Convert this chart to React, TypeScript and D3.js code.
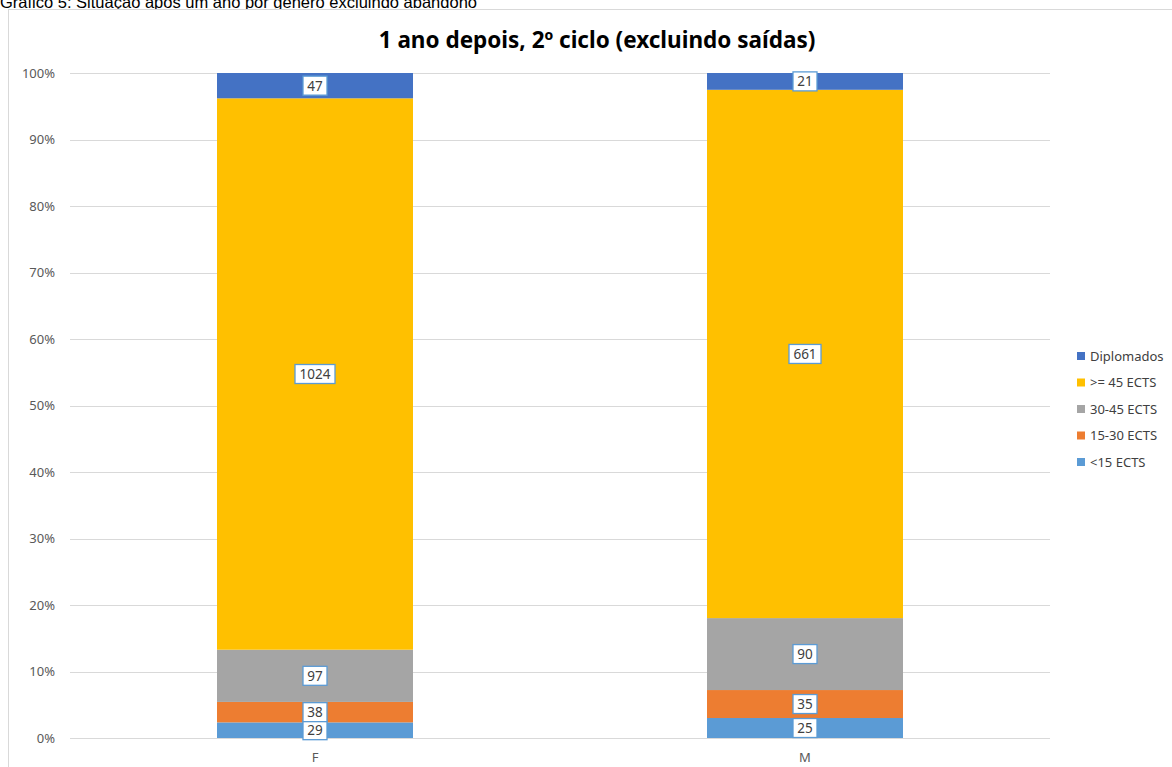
import React from "react";
import * as d3 from "d3";

const categories = ["F", "M"];
const seriesNames = ["<15 ECTS", "15-30 ECTS", "30-45 ECTS", ">= 45 ECTS", "Diplomados"];
const seriesColors = ["#5B9BD5", "#ED7D31", "#A5A5A5", "#FFC000", "#4472C4"];
const valuesLt15 = [29, 25];
const values15to30 = [38, 35];
const values30to45 = [97, 90];
const valuesGe45 = [1024, 661];
const valuesDipl = [47, 21];
const yTicks = [0, 0.1, 0.2, 0.3, 0.4, 0.5, 0.6, 0.7, 0.8, 0.9, 1];
const legendOrder = ["Diplomados", ">= 45 ECTS", "30-45 ECTS", "15-30 ECTS", "<15 ECTS"];

const W = 1172;
const H = 767;
const plotLeft = 70;
const plotRight = 1050;
const plotTop = 73;
const plotBottom = 738;
const FONT = "'Noto Sans', 'Open Sans', sans-serif";

export default function App() {
  const seriesValues = [valuesLt15, values15to30, values30to45, valuesGe45, valuesDipl];
  const rows = categories.map((c, i) => {
    const r: any = { cat: c };
    seriesNames.forEach((s, j) => (r[s] = seriesValues[j][i]));
    return r;
  });
  const stacked = d3
    .stack<any>()
    .keys(seriesNames)
    .offset(d3.stackOffsetExpand)(rows);

  const x = d3.scaleBand<string>().domain(categories).range([plotLeft, plotRight]);
  const y = d3.scaleLinear().domain([0, 1]).range([plotBottom, plotTop]);
  const barW = x.bandwidth() * 0.4;
  const fmt = d3.format(".0%");

  return (
    <svg
      width={W}
      height={H}
      style={{ position: "fixed", left: 0, top: 0, background: "#fff" }}
    >
      <text x={0} y={8} fontFamily="'Liberation Sans', Arial, sans-serif" fontSize={16.5} fill="#000">
        Gráfico 5: Situação após um ano por género excluindo abandono
      </text>
      <rect x={8.5} y={9.5} width={1190} height={800} fill="#fff" stroke="#D9D9D9" strokeWidth={1} />
      <text
        x={597}
        y={48}
        textAnchor="middle"
        fontFamily={FONT}
        fontWeight="bold"
        fontSize={22.5}
        fill="#000"
      >
        1 ano depois, 2º ciclo (excluindo saídas)
      </text>
      {yTicks.map((t) => (
        <g key={t}>
          <line
            x1={plotLeft}
            x2={plotRight}
            y1={Math.round(y(t)) + 0.5}
            y2={Math.round(y(t)) + 0.5}
            stroke="#D9D9D9"
            strokeWidth={1}
          />
          <text
            x={55}
            y={y(t)}
            dy="0.35em"
            textAnchor="end"
            fontFamily={FONT}
            fontSize={13}
            fill="#595959"
          >
            {fmt(t)}
          </text>
        </g>
      ))}
      {stacked.map((layer, j) =>
        layer.map((d, i) => {
          const cx = (x(categories[i]) as number) + x.bandwidth() / 2;
          return (
            <rect
              key={`${j}-${i}`}
              x={cx - barW / 2}
              y={y(d[1])}
              width={barW}
              height={y(d[0]) - y(d[1])}
              fill={seriesColors[j]}
            />
          );
        })
      )}
      {stacked.map((layer, j) =>
        layer.map((d, i) => {
          const cx = (x(categories[i]) as number) + x.bandwidth() / 2;
          const cy = (y(d[0]) + y(d[1])) / 2;
          const label = String(seriesValues[j][i]);
          const bw = label.length * 8 + 8;
          const bh = 19;
          return (
            <g key={`l-${j}-${i}`}>
              <rect
                x={cx - bw / 2}
                y={cy - bh / 2}
                width={bw}
                height={bh}
                fill="#fff"
                stroke="#5B9BD5"
                strokeWidth={1.3}
              />
              <text
                x={cx}
                y={cy}
                dy="0.36em"
                textAnchor="middle"
                fontFamily={FONT}
                fontSize={13.5}
                fill="#404040"
              >
                {label}
              </text>
            </g>
          );
        })
      )}
      {categories.map((c) => (
        <text
          key={c}
          x={(x(c) as number) + x.bandwidth() / 2}
          y={757}
          dy="0.35em"
          textAnchor="middle"
          fontFamily={FONT}
          fontSize={13}
          fill="#595959"
        >
          {c}
        </text>
      ))}
      {legendOrder.map((name, k) => {
        const j = seriesNames.indexOf(name);
        const ly = 356 + k * 26.5;
        return (
          <g key={name}>
            <rect x={1077} y={ly - 4} width={8} height={8} fill={seriesColors[j]} />
            <text x={1090} y={ly} dy="0.35em" fontFamily={FONT} fontSize={13} fill="#404040">
              {name}
            </text>
          </g>
        );
      })}
    </svg>
  );
}
